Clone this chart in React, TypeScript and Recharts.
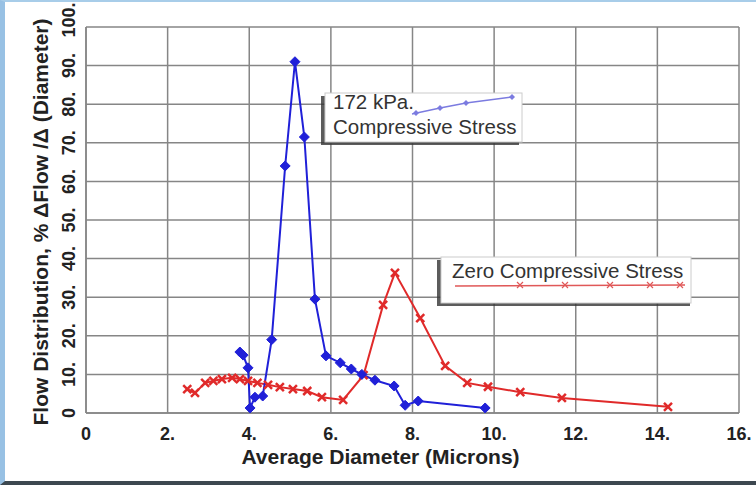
import React from 'react';
import { ComposedChart, Line, XAxis, YAxis, CartesianGrid } from 'recharts';

// axis ticks
const xTicks = [0, 2, 4, 6, 8, 10, 12, 14, 16];
const yTicks = [0, 10, 20, 30, 40, 50, 60, 70, 80, 90, 100];

// 172 kPa compressive stress
const stressX = [3.77, 3.85, 3.97, 4.02, 4.14, 4.33, 4.55, 4.88, 5.12, 5.35, 5.61, 5.88, 6.23, 6.5, 6.76, 7.08, 7.55, 7.82, 8.14, 9.78];
const stressY = [15.8, 15.0, 11.7, 1.3, 4.1, 4.4, 19, 64, 91, 71.5, 29.5, 14.8, 13, 11.4, 10, 8.5, 7, 2, 3.1, 1.3];

// zero compressive stress
const zeroX = [2.48, 2.67, 2.92, 3.12, 3.33, 3.58, 3.77, 3.97, 4.2, 4.46, 4.75, 5.07, 5.42, 5.78, 6.3, 6.8, 7.28, 7.57, 8.19, 8.8, 9.34, 9.85, 10.64, 11.66, 14.26];
const zeroY = [6.2, 5.2, 7.8, 8.3, 8.8, 9.1, 8.8, 8.3, 7.8, 7.3, 6.7, 6.2, 5.7, 4.1, 3.4, 9.8, 28, 36.3, 24.6, 12.2, 7.8, 6.8, 5.4, 3.9, 1.6];

const stressData = stressX.map((x, i) => ({ x, y: stressY[i] }));
const zeroData = zeroX.map((x, i) => ({ x, y: zeroY[i] }));

const BLUE = '#2020d8';
const RED = '#e02a2a';
const GRID = '#868686';
const FONT = 'Liberation Sans, Arial, sans-serif';

const fmt = (v: number) => (v === 0 ? '0' : `${v}.`);

const Diamond = (props: any) => {
  const { cx, cy, index } = props;
  if (cx == null || cy == null) return <g key={`d-${index}`} />;
  return (
    <polygon
      key={`d-${index}`}
      points={`${cx},${cy - 5} ${cx + 5},${cy} ${cx},${cy + 5} ${cx - 5},${cy}`}
      fill={BLUE}
      stroke={BLUE}
      strokeWidth={1}
    />
  );
};

const Cross = (props: any) => {
  const { cx, cy, index } = props;
  if (cx == null || cy == null) return <g key={`c-${index}`} />;
  return (
    <path
      key={`c-${index}`}
      d={`M${cx - 4},${cy - 4}L${cx + 4},${cy + 4}M${cx - 4},${cy + 4}L${cx + 4},${cy - 4}`}
      stroke={RED}
      strokeWidth={2.5}
    />
  );
};

const XTick = (props: any) => {
  const { x, y, payload } = props;
  return (
    <text x={x} y={y + 19} textAnchor="middle" fontFamily={FONT} fontWeight="bold" fontSize={18} fill="#222">
      {fmt(payload.value)}
    </text>
  );
};

const YTick = (props: any) => {
  const { x, y, payload } = props;
  // top label sits a little above its grid line in the original
  const shift = payload.value === 100 ? -7 : 0;
  return (
    <text
      x={0}
      y={0}
      transform={`translate(${x - 3},${y + shift}) rotate(-90)`}
      textAnchor="middle"
      fontFamily={FONT}
      fontWeight="bold"
      fontSize={18}
      fill="#222"
    >
      {fmt(payload.value)}
    </text>
  );
};

const XLabel = (props: any) => {
  const { viewBox } = props;
  const vb = viewBox || { x: 86, y: 413, width: 653 };
  return (
    <text x={vb.x + vb.width / 2 - 32} y={vb.y + 51} textAnchor="middle" fontFamily={FONT} fontWeight="bold" fontSize={21} fill="#222">
      Average Diameter (Microns)
    </text>
  );
};

const YLabel = (props: any) => {
  const { viewBox } = props;
  const vb = viewBox || { x: 0, y: 27, height: 386 };
  return (
    <text
      x={0}
      y={0}
      transform={`translate(48,${vb.y + vb.height / 2 + 2}) rotate(-90)`}
      textAnchor="middle"
      fontFamily={FONT}
      fontWeight="bold"
      fontSize={21}
      fill="#222"
    >
      Flow Distribution, % ΔFlow /Δ (Diameter)
    </text>
  );
};

const Annotations = () => (
  <svg width={756} height={485} style={{ position: 'absolute', left: 0, top: 0, pointerEvents: 'none' }}>
    {/* 172 kPa box */}
    <rect x={321} y={96} width={198} height={49} fill="#333" opacity={0.8} />
    <rect x={325} y={93} width={197} height={49} fill="#fff" stroke="#ccc" />
    <text x={333} y={109} fontFamily={FONT} fontSize={20.5} fill="#333">172 kPa.</text>
    <text x={333} y={134} fontFamily={FONT} fontSize={20.5} fill="#333">Compressive Stress</text>
    <polyline points="412,114 440,108 466,103 512,97" fill="none" stroke="#7b7be0" strokeWidth={1.5} />
    {[[416, 113], [440, 108], [466, 103], [512, 97]].map(([cx, cy], i) => (
      <polygon key={i} points={`${cx},${cy - 3} ${cx + 3},${cy} ${cx},${cy + 3} ${cx - 3},${cy}`} fill="#7b7be0" />
    ))}
    {/* zero stress box */}
    <rect x={437} y={260} width={253} height={46} fill="#333" opacity={0.8} />
    <rect x={441} y={257} width={250} height={46} fill="#fff" stroke="#ccc" />
    <text x={452} y={278} fontFamily={FONT} fontSize={20.5} fill="#333">Zero Compressive Stress</text>
    <line x1={455} y1={286} x2={685} y2={285} stroke="#e05858" strokeWidth={1.5} />
    {[520, 565, 610, 650, 680].map((cx, i) => (
      <path key={i} d={`M${cx - 3},${285 - 3}L${cx + 3},${285 + 3}M${cx - 3},${285 + 3}L${cx + 3},${285 - 3}`} stroke="#e05858" strokeWidth={1.2} />
    ))}
  </svg>
);

export default function App() {
  return (
    <div
      style={{
        position: 'absolute',
        left: 0,
        top: 0,
        width: 756,
        height: 485,
        background: '#fff',
        boxSizing: 'border-box',
        borderLeft: '5px solid #98c1e4',
        borderTop: '2px solid #a8cde9',
        borderBottom: '4px solid #3d4850',
        overflow: 'hidden',
      }}
    >
      <div style={{ position: 'absolute', left: -5, top: -2 }}>
        <ComposedChart width={756} height={485} margin={{ top: 27, right: 17, bottom: 0, left: 0 }}>
          <CartesianGrid stroke={GRID} strokeWidth={1.5} />
          <XAxis
            type="number"
            dataKey="x"
            domain={[0, 16]}
            ticks={xTicks}
            interval={0}
            axisLine={{ stroke: GRID, strokeWidth: 1.5 }}
            tickLine={false}
            tick={<XTick />}
            height={72}
            label={<XLabel />}
          />
          <YAxis
            type="number"
            dataKey="y"
            domain={[0, 100]}
            ticks={yTicks}
            interval={0}
            axisLine={{ stroke: GRID, strokeWidth: 1.5 }}
            tickLine={false}
            tick={<YTick />}
            width={86}
            label={<YLabel />}
          />
          <Line
            data={zeroData}
            dataKey="y"
            type="linear"
            stroke={RED}
            strokeWidth={2}
            dot={Cross}
            isAnimationActive={false}
          />
          <Line
            data={stressData}
            dataKey="y"
            type="linear"
            stroke={BLUE}
            strokeWidth={2}
            dot={Diamond}
            isAnimationActive={false}
          />
        </ComposedChart>
        <Annotations />
      </div>
    </div>
  );
}
